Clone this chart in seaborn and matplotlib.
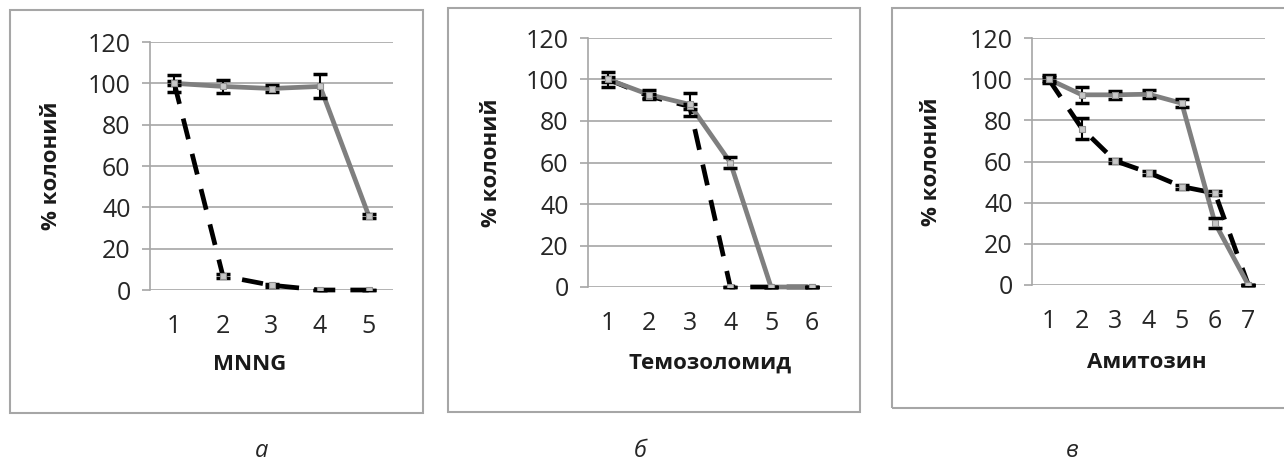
import numpy as np
import pandas as pd
import seaborn as sns
import matplotlib.pyplot as plt
from matplotlib.patches import Rectangle

# MNNG
mnng_x = [1, 2, 3, 4, 5]
mnng_solid = [100, 98.5, 97.5, 98.5, 36]
mnng_solid_err = [4, 3.3, 1.8, 5.8, 1]
mnng_dash = [100, 6.8, 2.3, 0, 0]
mnng_dash_err = [1, 1, 0.8, 0, 0]

# Темозоломид
tmz_x = [1, 2, 3, 4, 5, 6]
tmz_solid = [100, 92.7, 88, 60, 0, 0]
tmz_solid_err = [3.8, 2, 5.5, 2.5, 0, 0]
tmz_dash = [100, 92, 87, 0, 0, 0]
tmz_dash_err = [1, 1, 1, 0, 0, 0]

# Амитозин
ami_x = [1, 2, 3, 4, 5, 6, 7]
ami_solid = [100, 92.4, 92.4, 92.7, 88.3, 30, 0]
ami_solid_err = [2, 3.9, 2, 2, 2, 2.5, 0]
ami_dash = [100, 76, 60.3, 54.6, 47.8, 44.6, 0]
ami_dash_err = [1, 5, 1, 1, 1, 1, 0]

xlabels = ["MNNG", "Темозоломид", "Амитозин"]
captions = ["а", "б", "в"]

sns.set_style("white")
plt.rcParams['font.family'] = ['Open Sans', 'DejaVu Sans']

W, H = 1284, 466
fig = plt.figure(figsize=(W / 100, H / 100), dpi=100)


def px_axes(left, right, top, bottom):
    return fig.add_axes([left / W, (H - bottom) / H, (right - left) / W, (bottom - top) / H])


def frame(x0, y0, x1, y1):
    fig.patches.append(Rectangle((x0 / W, (H - y1) / H), (x1 - x0) / W, (y1 - y0) / H,
                                 transform=fig.transFigure, fill=False,
                                 edgecolor='#a6a6a6', lw=1.5))


frame(10, 10, 423, 413)
frame(448, 8, 860, 412)
frame(892, 8, 1300, 408)

boxes = [(150, 393, 42, 290), (588, 832, 38, 287), (1032, 1265, 38, 285)]
panels = [
    (mnng_x, mnng_solid, mnng_solid_err, mnng_dash, mnng_dash_err),
    (tmz_x, tmz_solid, tmz_solid_err, tmz_dash, tmz_dash_err),
    (ami_x, ami_solid, ami_solid_err, ami_dash, ami_dash_err),
]
ylab_x = [-0.362, -0.352, -0.386]
xlab_pos = [(0.41, -0.302), (0.5, -0.305), (0.494, -0.312)]
cap_x = [262, 640, 1072]

for i, (x, ys, es, yd, ed) in enumerate(panels):
    ax = px_axes(*boxes[i])
    df = pd.DataFrame({"x": x, "solid": ys, "dash": yd})
    sns.lineplot(data=df, x="x", y="dash", ax=ax, color="black", lw=3.4,
                 linestyle=(0, (4.5, 3.2)), zorder=3)
    sns.lineplot(data=df, x="x", y="solid", ax=ax, color="#7f7f7f", lw=3.4,
                 zorder=4)
    ax.errorbar(x, yd, yerr=ed, fmt='none', ecolor='black', elinewidth=1.5,
                capsize=5, capthick=2.5, zorder=5)
    ax.errorbar(x, ys, yerr=es, fmt='none', ecolor='black', elinewidth=1.5,
                capsize=5, capthick=2.5, zorder=5)
    ax.scatter(x, yd, marker='s', s=22, color='#c8c8c8', edgecolor='#909090',
               lw=0.8, zorder=6)
    ax.scatter(x, ys, marker='s', s=22, color='#c8c8c8', edgecolor='#909090',
               lw=0.8, zorder=6)

    n = len(x)
    ax.set_xlim(0.5, n + 0.5)
    ax.set_ylim(0, 120)
    ax.set_yticks(range(0, 121, 20))
    ax.set_xticks(x)
    ax.yaxis.grid(True, color='#a6a6a6', lw=1.2)
    ax.set_axisbelow(True)
    for s in ["top", "right", "bottom"]:
        ax.spines[s].set_visible(False)
    ax.spines["left"].set_color('#a6a6a6')
    ax.spines["left"].set_linewidth(1.2)
    ax.tick_params(axis='y', length=6, width=1.2, color='#a6a6a6', pad=8,
                   labelsize=18, labelcolor='#262626', left=True)
    ax.tick_params(axis='x', length=0, pad=17, labelsize=18, labelcolor='#262626')
    ax.set_ylabel("% колоний", fontsize=16, fontweight='bold', color='#1a1a1a')
    ax.yaxis.set_label_coords(ylab_x[i], 0.5)
    ax.set_xlabel(xlabels[i], fontsize=16, fontweight='bold', color='#1a1a1a')
    ax.xaxis.label.set_va('center')
    ax.xaxis.set_label_coords(*xlab_pos[i])
    for ln in ax.lines:
        ln.set_clip_on(False)

    fig.text(cap_x[i] / W, (H - 451) / H, captions[i], fontsize=17, style='italic',
             color='#262626', ha='center', va='center')

fig.savefig("out.png", dpi=100)
